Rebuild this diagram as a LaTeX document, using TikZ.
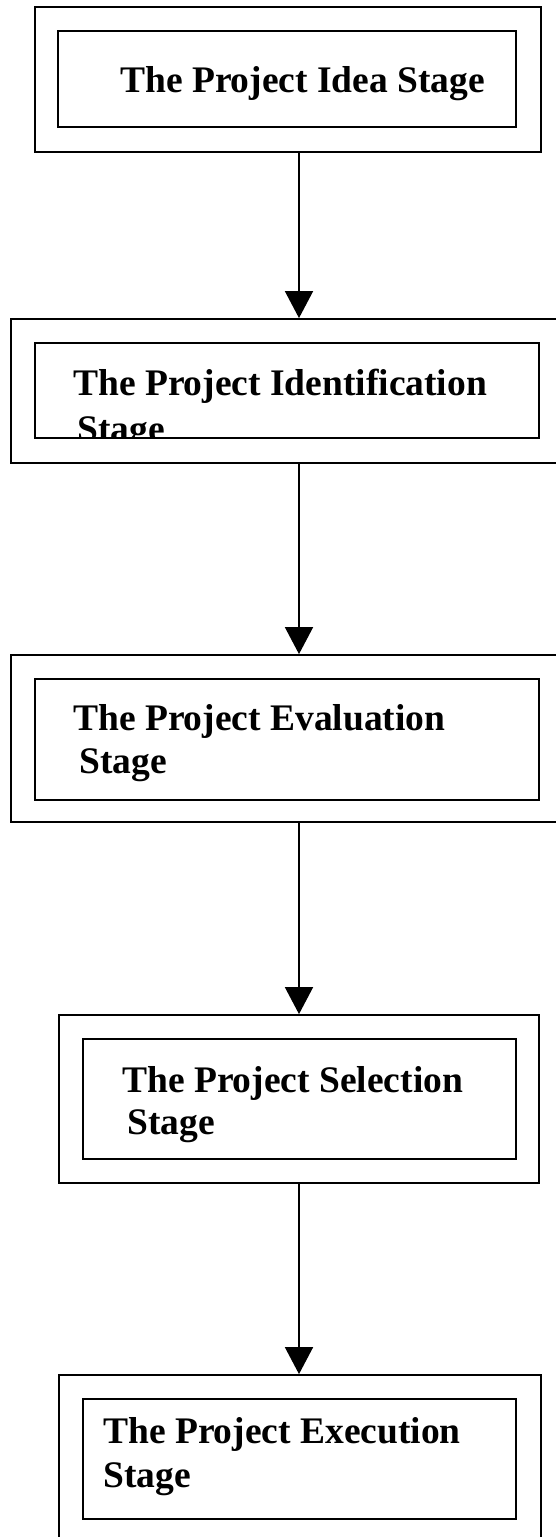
\documentclass[tikz,border=0pt]{standalone}
\usepackage{fontspec}
\setmainfont{Liberation Serif}
\usetikzlibrary{arrows.meta}
\begin{document}
\begin{tikzpicture}[x=1pt,y=-1pt,
  stagebox/.style={draw,line width=1.8pt,inner sep=0pt,rectangle},
  stagetext/.style={anchor=base west,inner sep=0pt,font=\fontsize{37.5}{43}\selectfont\bfseries},
  arr/.style={line width=1.8pt,-{Triangle[width=28pt,length=27pt]}}]
\useasboundingbox (0,0) rectangle (555,1537);
\coordinate (ax) at (299,0);
% box 1
\node[stagebox,minimum width=506pt,minimum height=145pt] (o1) at (288,79.5) {};
\node[stagebox,minimum width=458pt,minimum height=96pt] (i1) at (287,79) {};
\node[stagetext] (t1) at (120,92) {The Project Idea Stage};
% box 2
\node[stagebox,minimum width=589pt,minimum height=144pt] (o2) at (305.5,391) {};
\node[stagebox,minimum width=504pt,minimum height=95pt] (i2) at (287,390.5) {};
\begin{scope}
\clip (35,343) rectangle (539,438);
\node[stagetext] (t2a) at (73,395) {The Project Identification};
\node[stagetext] (t2b) at (77,441) {Stage};
\end{scope}
% box 3
\node[stagebox,minimum width=589pt,minimum height=167pt] (o3) at (305.5,738.5) {};
\node[stagebox,minimum width=504pt,minimum height=121pt] (i3) at (287,739.5) {};
\node[stagetext] (t3a) at (73,730) {The Project Evaluation};
\node[stagetext] (t3b) at (79,773) {Stage};
% box 4
\node[stagebox,minimum width=480pt,minimum height=168pt] (o4) at (299,1099) {};
\node[stagebox,minimum width=433pt,minimum height=120pt] (i4) at (299.5,1099) {};
\node[stagetext] (t4a) at (122,1092) {The Project Selection};
\node[stagetext] (t4b) at (127,1134) {Stage};
% box 5
\node[stagebox,minimum width=482pt,minimum height=225pt] (o5) at (300,1487.5) {};
\node[stagebox,minimum width=433pt,minimum height=120pt] (i5) at (299.5,1459) {};
\node[stagetext] (t5a) at (103,1443) {The Project Execution};
\node[stagetext] (t5b) at (103,1487) {Stage};
% arrows
\draw[arr] (o1.south -| ax) -- (o2.north -| ax);
\draw[arr] (o2.south -| ax) -- (o3.north -| ax);
\draw[arr] (o3.south -| ax) -- (o4.north -| ax);
\draw[arr] (o4.south -| ax) -- (o5.north -| ax);
\end{tikzpicture}
\end{document}
